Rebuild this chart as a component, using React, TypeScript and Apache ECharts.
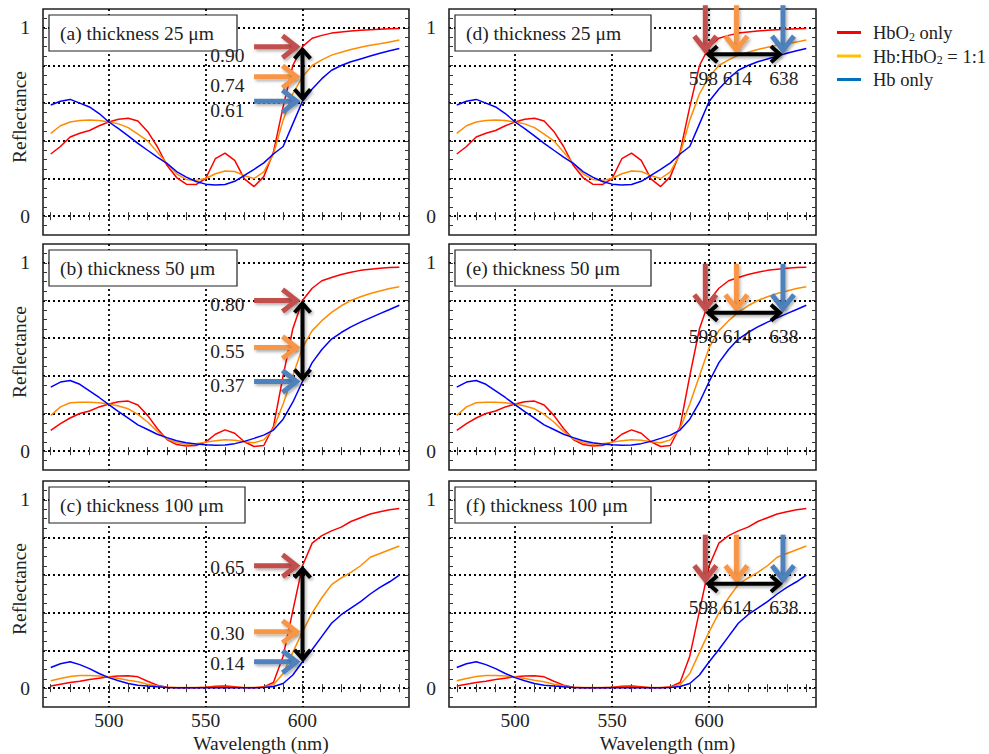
import React, { useEffect, useRef } from "react";
import * as echarts from "echarts";

// ---------- data ----------
const wavelengths = [470, 475, 480, 485, 490, 495, 500, 505, 510, 515, 520, 525, 530, 535, 540, 545, 550, 555, 560, 565, 570, 575, 580, 585, 590, 595, 600, 605, 610, 615, 620, 625, 630, 635, 640, 645, 650];

const hbo2_25 = [0.33, 0.37, 0.42, 0.44, 0.455, 0.48, 0.5, 0.515, 0.52, 0.505, 0.45, 0.37, 0.27, 0.205, 0.17, 0.168, 0.2, 0.305, 0.335, 0.296, 0.198, 0.157, 0.21, 0.34, 0.58, 0.8, 0.9, 0.945, 0.96, 0.972, 0.978, 0.983, 0.987, 0.99, 0.993, 0.995, 0.996];
const mix_25 = [0.44, 0.48, 0.5, 0.508, 0.51, 0.508, 0.5, 0.49, 0.47, 0.435, 0.4, 0.34, 0.28, 0.225, 0.195, 0.19, 0.2, 0.225, 0.24, 0.237, 0.215, 0.2, 0.235, 0.33, 0.51, 0.65, 0.74, 0.8, 0.83, 0.855, 0.87, 0.885, 0.897, 0.907, 0.915, 0.925, 0.935];
const hb_25 = [0.59, 0.61, 0.62, 0.6, 0.58, 0.545, 0.5, 0.465, 0.426, 0.387, 0.35, 0.314, 0.28, 0.237, 0.207, 0.184, 0.17, 0.166, 0.168, 0.185, 0.216, 0.248, 0.283, 0.33, 0.37, 0.49, 0.61, 0.675, 0.73, 0.775, 0.8, 0.82, 0.835, 0.85, 0.865, 0.878, 0.89];

const hbo2_50 = [0.11, 0.146, 0.176, 0.2, 0.213, 0.235, 0.25, 0.262, 0.266, 0.245, 0.19, 0.12, 0.062, 0.035, 0.028, 0.03, 0.048, 0.09, 0.113, 0.095, 0.05, 0.025, 0.03, 0.13, 0.4, 0.65, 0.8, 0.865, 0.905, 0.922, 0.938, 0.95, 0.96, 0.966, 0.971, 0.975, 0.977];
const mix_50 = [0.19, 0.235, 0.257, 0.26, 0.26, 0.257, 0.25, 0.24, 0.225, 0.195, 0.155, 0.105, 0.065, 0.045, 0.037, 0.04, 0.048, 0.055, 0.06, 0.058, 0.05, 0.045, 0.06, 0.12, 0.25, 0.4, 0.55, 0.64, 0.693, 0.737, 0.772, 0.8, 0.82, 0.837, 0.85, 0.864, 0.873];
const hb_50 = [0.34, 0.367, 0.375, 0.355, 0.32, 0.285, 0.247, 0.21, 0.175, 0.14, 0.115, 0.09, 0.072, 0.055, 0.045, 0.038, 0.034, 0.032, 0.033, 0.04, 0.052, 0.068, 0.085, 0.112, 0.17, 0.26, 0.37, 0.47, 0.54, 0.595, 0.63, 0.66, 0.685, 0.708, 0.73, 0.752, 0.775];

const hbo2_100 = [0.011, 0.021, 0.03, 0.037, 0.046, 0.053, 0.06, 0.065, 0.066, 0.06, 0.037, 0.016, 0.005, 0.002, 0.002, 0.002, 0.005, 0.01, 0.012, 0.007, 0.002, 0.002, 0.007, 0.03, 0.17, 0.41, 0.65, 0.77, 0.81, 0.835, 0.855, 0.885, 0.905, 0.925, 0.937, 0.947, 0.954];
const mix_100 = [0.039, 0.051, 0.062, 0.067, 0.067, 0.065, 0.06, 0.051, 0.042, 0.034, 0.021, 0.011, 0.004, 0.003, 0.003, 0.003, 0.003, 0.003, 0.003, 0.003, 0.003, 0.003, 0.005, 0.018, 0.078, 0.19, 0.3, 0.4, 0.48, 0.55, 0.585, 0.615, 0.65, 0.695, 0.715, 0.735, 0.755];
const hb_100 = [0.11, 0.13, 0.14, 0.125, 0.104, 0.078, 0.056, 0.039, 0.025, 0.016, 0.011, 0.007, 0.004, 0.002, 0.002, 0.002, 0.002, 0.002, 0.002, 0.002, 0.002, 0.002, 0.004, 0.009, 0.025, 0.07, 0.14, 0.205, 0.275, 0.345, 0.39, 0.425, 0.46, 0.5, 0.535, 0.565, 0.6];

const seriesNames = ["HbO2 only", "Hb:HbO2 = 1:1", "Hb only"];
const thicknessSeries = [
  [hbo2_25, mix_25, hb_25],
  [hbo2_50, mix_50, hb_50],
  [hbo2_100, mix_100, hb_100],
];
const panelTitles = [
  ["(a) thickness 25 μm", "(b) thickness 50 μm", "(c) thickness 100 μm"],
  ["(d) thickness 25 μm", "(e) thickness 50 μm", "(f) thickness 100 μm"],
];

// annotations (left column: reflectance at 600 nm; right column: wavelength at equal reflectance)
const reflectanceAt600 = [
  [0.9, 0.74, 0.61],
  [0.8, 0.55, 0.37],
  [0.65, 0.3, 0.14],
];
const reflectanceLabels = [
  ["0.90", "0.74", "0.61"],
  ["0.80", "0.55", "0.37"],
  ["0.65", "0.30", "0.14"],
];
const markWavelengths = [598, 614, 638];
const markWavelengthLabels = ["598", "614", "638"];
const markLevels = [0.86, 0.735, 0.555];

// axes
const xMin = 466;
const xMax = 655;
const yMin = -0.1;
const yMax = 1.1;
const xTickValues = [470, 480, 490, 500, 510, 520, 530, 540, 550, 560, 570, 580, 590, 600, 610, 620, 630, 640, 650];
const xLabelValues = [500, 550, 600];
const yTickValues = [-0.05, 0, 0.05, 0.1, 0.15, 0.2, 0.25, 0.3, 0.35, 0.4, 0.45, 0.5, 0.55, 0.6, 0.65, 0.7, 0.75, 0.8, 0.85, 0.9, 0.95, 1, 1.05];
const yGridValues = [0, 0.2, 0.4, 0.6, 0.8, 1];
const yLabelValues = [0, 1];

// ---------- styles / layout ----------
const FONT = "'Liberation Serif', 'Times New Roman', serif";
const TEXT = "#222";
const FS = 19.5;
const lineColors = ["#ff0000", "#ff8c00", "#0000ff"];
const legendColors = ["#ff0000", "#ffc000", "#0070c0"];
const arrowColors = ["#c0504d", "#f79646", "#4f81bd"];
const colLeft = [43, 449];
const colWidth = [366, 367];
const rowTop = [9, 244, 481];
const panelH = 226;
const boxWidth = [
  [188, 188, 196],
  [196, 196, 196],
];
const leftLabelDy = [9, 4, 2];
const rightLabelDx = [-2, 1, 1];

const legendRich: Record<string, string> = {
  "HbO2 only": "{g| }{n|HbO}{s|2}{n| only}",
  "Hb:HbO2 = 1:1": "{g| }{n|Hb:HbO}{s|2}{n| = 1:1}",
  "Hb only": "{g| }{n|Hb only}",
};

function arrowGroup(p1: number[], p2: number[], color: string, w: number, hl: number, hh: number, both: boolean, shadow: boolean) {
  const dx = p2[0] - p1[0];
  const dy = p2[1] - p1[1];
  const L = Math.hypot(dx, dy) || 1;
  const ux = dx / L;
  const uy = dy / L;
  const nx = -uy;
  const ny = ux;
  const alpha = Math.atan2(hh, hl);
  const e = w / 2 / Math.sin(alpha);
  const shadowStyle: any = shadow
    ? { shadowBlur: 3, shadowColor: "rgba(0,0,0,0.3)", shadowOffsetX: 1.5, shadowOffsetY: 2 }
    : {};
  const strokeStyle: any = {
    stroke: color,
    lineWidth: w,
    fill: null,
    lineJoin: "miter",
    miterLimit: 10,
    lineCap: "butt",
    ...shadowStyle,
  };
  const head = (tx: number, ty: number, sx: number, sy: number) => {
    const bx = tx - sx * e;
    const by = ty - sy * e;
    return {
      type: "polyline",
      shape: {
        points: [
          [bx - sx * hl + nx * hh, by - sy * hl + ny * hh],
          [bx, by],
          [bx - sx * hl - nx * hh, by - sy * hl - ny * hh],
        ],
      },
      style: strokeStyle,
    };
  };
  const s = both ? [p1[0] + ux * e, p1[1] + uy * e] : p1;
  const t = [p2[0] - ux * e, p2[1] - uy * e];
  const hw = w / 2;
  const shaft = {
    type: "polygon",
    shape: {
      points: [
        [s[0] + nx * hw, s[1] + ny * hw],
        [t[0] + nx * hw, t[1] + ny * hw],
        [t[0] - nx * hw, t[1] - ny * hw],
        [s[0] - nx * hw, s[1] - ny * hw],
      ],
    },
    style: { fill: color, stroke: null, ...shadowStyle },
  };
  const children: any[] = [shaft, head(p2[0], p2[1], ux, uy)];
  if (both) children.push(head(p1[0], p1[1], -ux, -uy));
  return { type: "group", children };
}

function buildOption() {
  const grids: any[] = [];
  const xAxes: any[] = [];
  const yAxes: any[] = [];
  const series: any[] = [];
  const graphics: any[] = [];

  const tickStyle = { color: "#333", width: 1 };
  const gridLineStyle = { color: "#000", width: 1.8, type: [2, 3] };

  for (let col = 0; col < 2; col++) {
    for (let row = 0; row < 3; row++) {
      const p = col * 3 + row;
      const left = colLeft[col];
      const top = rowTop[row];
      const width = colWidth[col];
      grids.push({
        left,
        top,
        width,
        height: panelH,
        show: true,
        borderColor: "#222",
        borderWidth: 1.6,
        backgroundColor: "rgba(0,0,0,0)",
      });

      const baseX = { type: "value", gridIndex: p, min: xMin, max: xMax, axisLine: { show: false }, splitLine: { show: false } };
      xAxes.push({
        ...baseX,
        position: "bottom",
        axisTick: { show: true, inside: true, length: 4, customValues: xTickValues, lineStyle: tickStyle },
        axisLabel: { show: row === 2, customValues: xLabelValues, fontFamily: FONT, fontSize: FS, color: TEXT, margin: 3 },
        name: row === 2 ? "Wavelength (nm)" : "",
        nameLocation: "middle",
        nameGap: 26,
        nameMoveOverlap: false,
        nameTextStyle: { fontFamily: FONT, fontSize: FS, color: TEXT, padding: [0, 0, 0, 70] },
      });
      xAxes.push({
        ...baseX,
        position: "top",
        axisTick: { show: true, inside: true, length: 4, customValues: xTickValues, lineStyle: tickStyle },
        axisLabel: { show: false },
      });
      xAxes.push({
        ...baseX,
        position: "bottom",
        axisTick: { show: false, customValues: xLabelValues },
        axisLabel: { show: false },
        splitLine: { show: true, lineStyle: gridLineStyle },
      });

      const baseY = { type: "value", gridIndex: p, min: yMin, max: yMax, axisLine: { show: false }, splitLine: { show: false } };
      yAxes.push({
        ...baseY,
        position: "left",
        axisTick: { show: true, inside: true, length: 4, customValues: yTickValues, lineStyle: tickStyle },
        axisLabel: { show: true, customValues: yLabelValues, fontFamily: FONT, fontSize: FS, color: TEXT, margin: 13 },
        name: col === 0 ? "Reflectance" : "",
        nameLocation: "middle",
        nameGap: 14,
        nameMoveOverlap: false,
        nameTextStyle: { fontFamily: FONT, fontSize: FS, color: TEXT, padding: [0, 0, 0, 10] },
      });
      yAxes.push({
        ...baseY,
        position: "right",
        axisTick: { show: true, inside: true, length: 4, customValues: yTickValues, lineStyle: tickStyle },
        axisLabel: { show: false },
      });
      yAxes.push({
        ...baseY,
        position: "left",
        axisTick: { show: false, customValues: yGridValues },
        axisLabel: { show: false },
        splitLine: { show: true, lineStyle: gridLineStyle },
      });

      const xi = p * 3;
      const yi = p * 3;
      const curves = thicknessSeries[row];
      curves.forEach((vals, k) => {
        series.push({
          type: "line",
          name: seriesNames[k],
          xAxisIndex: xi,
          yAxisIndex: yi,
          data: wavelengths.map((w, i) => [w, vals[i]]),
          showSymbol: false,
          symbol: "none",
          lineStyle: { color: lineColors[k], width: 1.5 },
          itemStyle: { color: lineColors[k] },
          z: 3,
          silent: true,
        });
      });

      let arrowData: number[][] = [];
      let labelData: number[][] = [];
      let labelTexts: string[] = [];
      if (col === 0) {
        const vals = reflectanceAt600[row];
        arrowData = [
          [575, vals[0], 599, vals[0], 0],
          [575, vals[1], 599, vals[1], 1],
          [575, vals[2], 599, vals[2], 2],
          [600, vals[0], 600, vals[2], 3],
        ];
        labelData = vals.map((v) => [570, v]);
        labelTexts = reflectanceLabels[row];
      } else {
        const lvl = markLevels[row];
        arrowData = [
          [markWavelengths[0], lvl + 0.26, markWavelengths[0], lvl, 0],
          [markWavelengths[1], lvl + 0.26, markWavelengths[1], lvl, 1],
          [markWavelengths[2], lvl + 0.26, markWavelengths[2], lvl, 2],
          [markWavelengths[0], lvl, markWavelengths[2], lvl, 3],
        ];
        labelData = markWavelengths.map((w) => [w, lvl]);
        labelTexts = markWavelengthLabels;
      }
      series.push({
        type: "custom",
        name: "arrows" + p,
        xAxisIndex: xi,
        yAxisIndex: yi,
        silent: true,
        clip: false,
        z: 10,
        data: arrowData,
        renderItem: (params: any, api: any) => {
          const p1 = api.coord([api.value(0), api.value(1)]);
          const p2 = api.coord([api.value(2), api.value(3)]);
          const kind = api.value(4);
          if (kind === 3) return arrowGroup(p1, p2, "#000", 4, 9, 8, true, true);
          return arrowGroup(p1, p2, arrowColors[kind], 5, 14, 11, false, true);
        },
      });
      const isLeft = col === 0;
      const dyLeft = leftLabelDy[row];
      series.push({
        type: "custom",
        name: "labels" + p,
        xAxisIndex: xi,
        yAxisIndex: yi,
        silent: true,
        clip: false,
        z: 120,
        data: labelData,
        renderItem: (params: any, api: any) => {
          const pt = api.coord([api.value(0), api.value(1)]);
          return {
            type: "text",
            x: pt[0] + (isLeft ? 0 : rightLabelDx[params.dataIndex]),
            y: pt[1] + (isLeft ? dyLeft : 24),
            style: {
              text: labelTexts[params.dataIndex],
              fontFamily: FONT,
              fontSize: FS,
              fill: TEXT,
              align: isLeft ? "right" : "center",
              verticalAlign: "middle",
            },
          };
        },
      });

      const bx = left + 6;
      const by = top + 6;
      graphics.push({
        type: "rect",
        z: 100,
        silent: true,
        shape: { x: bx, y: by, width: boxWidth[col][row], height: 36 },
        style: { fill: "#fff", stroke: "#222", lineWidth: 1.2 },
      });
      graphics.push({
        type: "text",
        z: 101,
        silent: true,
        x: bx + 11,
        y: by + 18,
        style: {
          text: panelTitles[col][row],
          fontFamily: FONT,
          fontSize: FS,
          fill: TEXT,
          verticalAlign: "middle",
          align: "left",
        },
      });
    }
  }

  return {
    animation: false,
    backgroundColor: "#fff",
    textStyle: { fontFamily: FONT },
    grid: grids,
    xAxis: xAxes,
    yAxis: yAxes,
    series,
    legend: {
      orient: "vertical",
      left: 832,
      top: 18,
      itemWidth: 24,
      itemHeight: 3,
      itemGap: 4,
      icon: "rect",
      selectedMode: false,
      data: seriesNames.map((n, i) => ({ name: n, itemStyle: { color: legendColors[i] } })),
      formatter: (name: string) => legendRich[name] || name,
      textStyle: {
        fontFamily: FONT,
        fontSize: 18.5,
        color: TEXT,
        rich: {
          g: { fontSize: 18.5, width: 7, lineHeight: 20 },
          n: { fontFamily: FONT, fontSize: 18.5, color: TEXT, lineHeight: 20, verticalAlign: "bottom" },
          s: { fontFamily: FONT, fontSize: 12, color: TEXT, lineHeight: 10, verticalAlign: "bottom" },
        },
      },
    },
    graphic: { elements: graphics },
  };
}

export default function App() {
  const ref = useRef<HTMLDivElement>(null);
  useEffect(() => {
    if (!ref.current) return;
    const chart = echarts.init(ref.current, undefined, { renderer: "svg" });
    chart.setOption(buildOption() as any);
    return () => {
      chart.dispose();
    };
  }, []);
  return (
    <div
      ref={ref}
      style={{ position: "fixed", left: 0, top: 0, width: 989, height: 754, background: "#fff" }}
    />
  );
}
